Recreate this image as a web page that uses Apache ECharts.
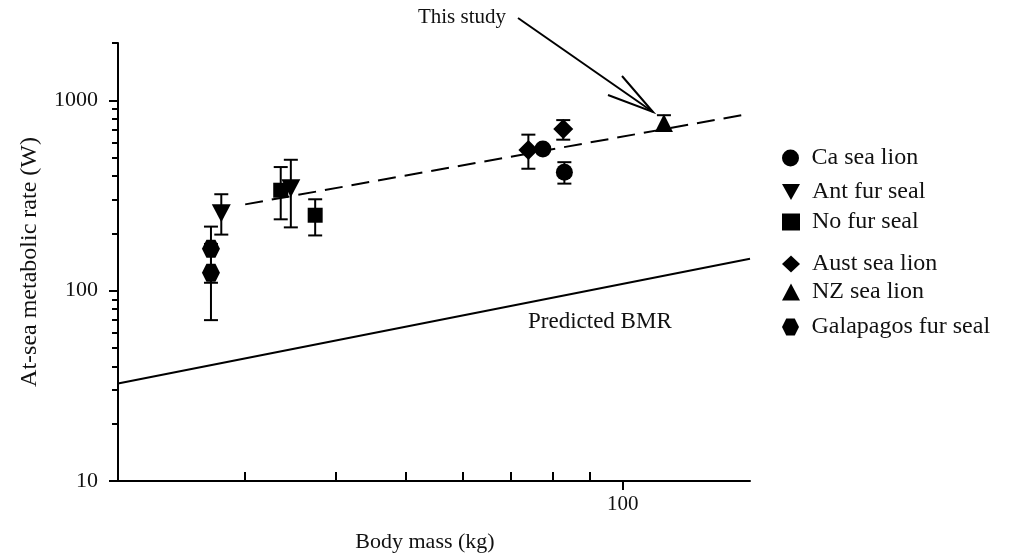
<!DOCTYPE html>
<html>
<head>
<meta charset="utf-8">
<script src="https://cdn.jsdelivr.net/npm/echarts@6/dist/echarts.min.js"></script>
<style>
  html, body { margin: 0; padding: 0; background: #fff; }
  #chart { width: 1010px; height: 558px; }
</style>
</head>
<body>
<div id="chart"></div>
<script>
// each point: [body mass (kg), at-sea rate (W), error low, error high]
var caSeaLion = [[77.5, 555, 555, 555], [83, 419, 365, 473]];
var antFurSeal = [[27.8, 255, 197, 321], [34.7, 345, 215, 487]];
var noFurSeal = [[33.6, 337, 237, 446], [37.5, 249, 195, 302]];
var austSeaLion = [[74, 548, 437, 660], [82.7, 707, 621, 787]];
var nzSeaLion = [[114, 761, 694, 835]];
var galapagosFurSeal = [[26.9, 166, 110, 217], [26.9, 124, 70, 176]];

// regression through the at-sea data and predicted BMR line
var fitLine = [[30, 284], [150, 850]];
var bmrLine = [[20, 32.5], [150, 147]];

var speciesNames = ['Ca sea lion', 'Ant fur seal', 'No fur seal',
  'Aust sea lion', 'NZ sea lion', 'Galapagos fur seal'];
var xLabelValues = [100];
var xMinorTicks = [20, 30, 40, 50, 60, 70, 80, 90];
var yLabelValues = [10, 100, 1000];
var yMinorTicks = [20, 30, 40, 50, 60, 70, 80, 90, 200, 300, 400, 500, 600, 700, 800, 900, 2000];

var FONT = 'Liberation Serif';
var hexagon = 'path://M25,0 L75,0 L100,50 L75,100 L25,100 L0,50 Z';
var downTriangle = 'path://M0,0 L100,0 L50,90 Z';

// draw error bar (vertical line with caps) through the axes
function errorBar(params, api) {
  var x = api.value(0), lo = api.value(2), hi = api.value(3);
  if (lo === hi) return;
  var top = api.coord([x, hi]);
  var bot = api.coord([x, lo]);
  var w = 7;
  var st = { stroke: '#000', lineWidth: 2 };
  return {
    type: 'group',
    children: [
      { type: 'line', shape: { x1: top[0], y1: top[1], x2: bot[0], y2: bot[1] }, style: st },
      { type: 'line', shape: { x1: top[0] - w, y1: top[1], x2: top[0] + w, y2: top[1] }, style: st },
      { type: 'line', shape: { x1: bot[0] - w, y1: bot[1], x2: bot[0] + w, y2: bot[1] }, style: st }
    ]
  };
}

var species = [
  { name: speciesNames[0], data: caSeaLion, symbol: 'circle', size: 17 },
  { name: speciesNames[1], data: antFurSeal, symbol: downTriangle, size: [19, 18] },
  { name: speciesNames[2], data: noFurSeal, symbol: 'rect', size: 15 },
  { name: speciesNames[3], data: austSeaLion, symbol: 'diamond', size: 20 },
  { name: speciesNames[4], data: nzSeaLion, symbol: 'triangle', size: 18 },
  { name: speciesNames[5], data: galapagosFurSeal, symbol: hexagon, size: 18 }
];

var series = [];
species.forEach(function (s) {
  series.push({
    name: s.name + ' err',
    type: 'custom',
    renderItem: errorBar,
    data: s.data,
    encode: { x: 0, y: 1 },
    z: 2,
    silent: true
  });
  series.push({
    name: s.name,
    type: 'scatter',
    data: s.data,
    symbol: s.symbol,
    symbolSize: s.size,
    itemStyle: { color: '#000', opacity: 1 },
    z: 3
  });
});
series.push({
  name: 'fit',
  type: 'line',
  data: fitLine,
  symbol: 'none',
  lineStyle: { color: '#000', width: 2, type: [18, 9] },
  z: 1
});
series.push({
  name: 'Predicted BMR',
  type: 'line',
  data: bmrLine,
  symbol: 'none',
  lineStyle: { color: '#000', width: 2 },
  z: 1
});

var legendTops = [153, 187, 217, 259, 287, 322];
var legends = speciesNames.map(function (n, i) {
  return {
    data: [n],
    left: 777,
    top: legendTops[i] - 12,
    itemWidth: 18,
    itemHeight: 17,
    itemGap: 0,
    selectedMode: false,
    textStyle: { fontFamily: FONT, fontSize: 24, lineHeight: 24, color: '#111', padding: [0, 0, 0, 7] }
  };
});

var chart = echarts.init(document.getElementById('chart'));
chart.setOption({
  backgroundColor: '#fff',
  animation: false,
  textStyle: { fontFamily: FONT },
  grid: { left: 118, right: 260, top: 43, bottom: 76 },
  legend: legends,
  xAxis: [
    {
      type: 'log', min: 20, max: 150,
      name: 'Body mass (kg)', nameLocation: 'middle', nameGap: 50,
      nameTextStyle: { fontFamily: FONT, fontSize: 22, color: '#111', padding: [0, 18, 0, 0] },
      axisLine: { lineStyle: { color: '#000', width: 2 } },
      axisTick: { customValues: xLabelValues, length: 9, lineStyle: { color: '#000', width: 2 } },
      axisLabel: { customValues: xLabelValues, margin: 13, fontFamily: FONT, fontSize: 21, color: '#111' },
      splitLine: { show: false }
    },
    {
      type: 'log', min: 20, max: 150, position: 'bottom',
      axisLine: { show: false },
      axisTick: { customValues: xMinorTicks, inside: true, length: 9, lineStyle: { color: '#000', width: 2 } },
      axisLabel: { show: false },
      splitLine: { show: false }
    }
  ],
  yAxis: [
    {
      type: 'log', min: 10, max: 2000,
      name: 'At-sea metabolic rate (W)', nameLocation: 'middle', nameGap: 76,
      nameTextStyle: { fontFamily: FONT, fontSize: 24, color: '#111' },
      axisLine: { show: true, lineStyle: { color: '#000', width: 2 } },
      axisTick: { show: true, customValues: yLabelValues, length: 9, lineStyle: { color: '#000', width: 2 } },
      axisLabel: {
        customValues: yLabelValues, margin: 20, fontFamily: FONT, fontSize: 22, color: '#111',
        formatter: function (v) { return String(v); }
      },
      splitLine: { show: false }
    },
    {
      type: 'log', min: 10, max: 2000, position: 'left',
      axisLine: { show: false },
      axisTick: { show: true, customValues: yMinorTicks, length: 6, lineStyle: { color: '#000', width: 2 } },
      axisLabel: { show: false },
      splitLine: { show: false }
    }
  ],
  graphic: [
    { type: 'text', right: 1010 - 506, top: 7, style: { text: 'This study', font: '21px "Liberation Serif"', fill: '#111' } },
    { type: 'line', shape: { x1: 518, y1: 18, x2: 653, y2: 112 }, style: { stroke: '#000', lineWidth: 2 } },
    { type: 'polyline', shape: { points: [[622, 76], [653, 112], [608, 95]] }, style: { stroke: '#000', lineWidth: 2, fill: null } },
    { type: 'text', left: 528, top: 310, style: { text: 'Predicted BMR', font: '23px "Liberation Serif"', fill: '#111' } }
  ],
  series: series
});
</script>
</body>
</html>
